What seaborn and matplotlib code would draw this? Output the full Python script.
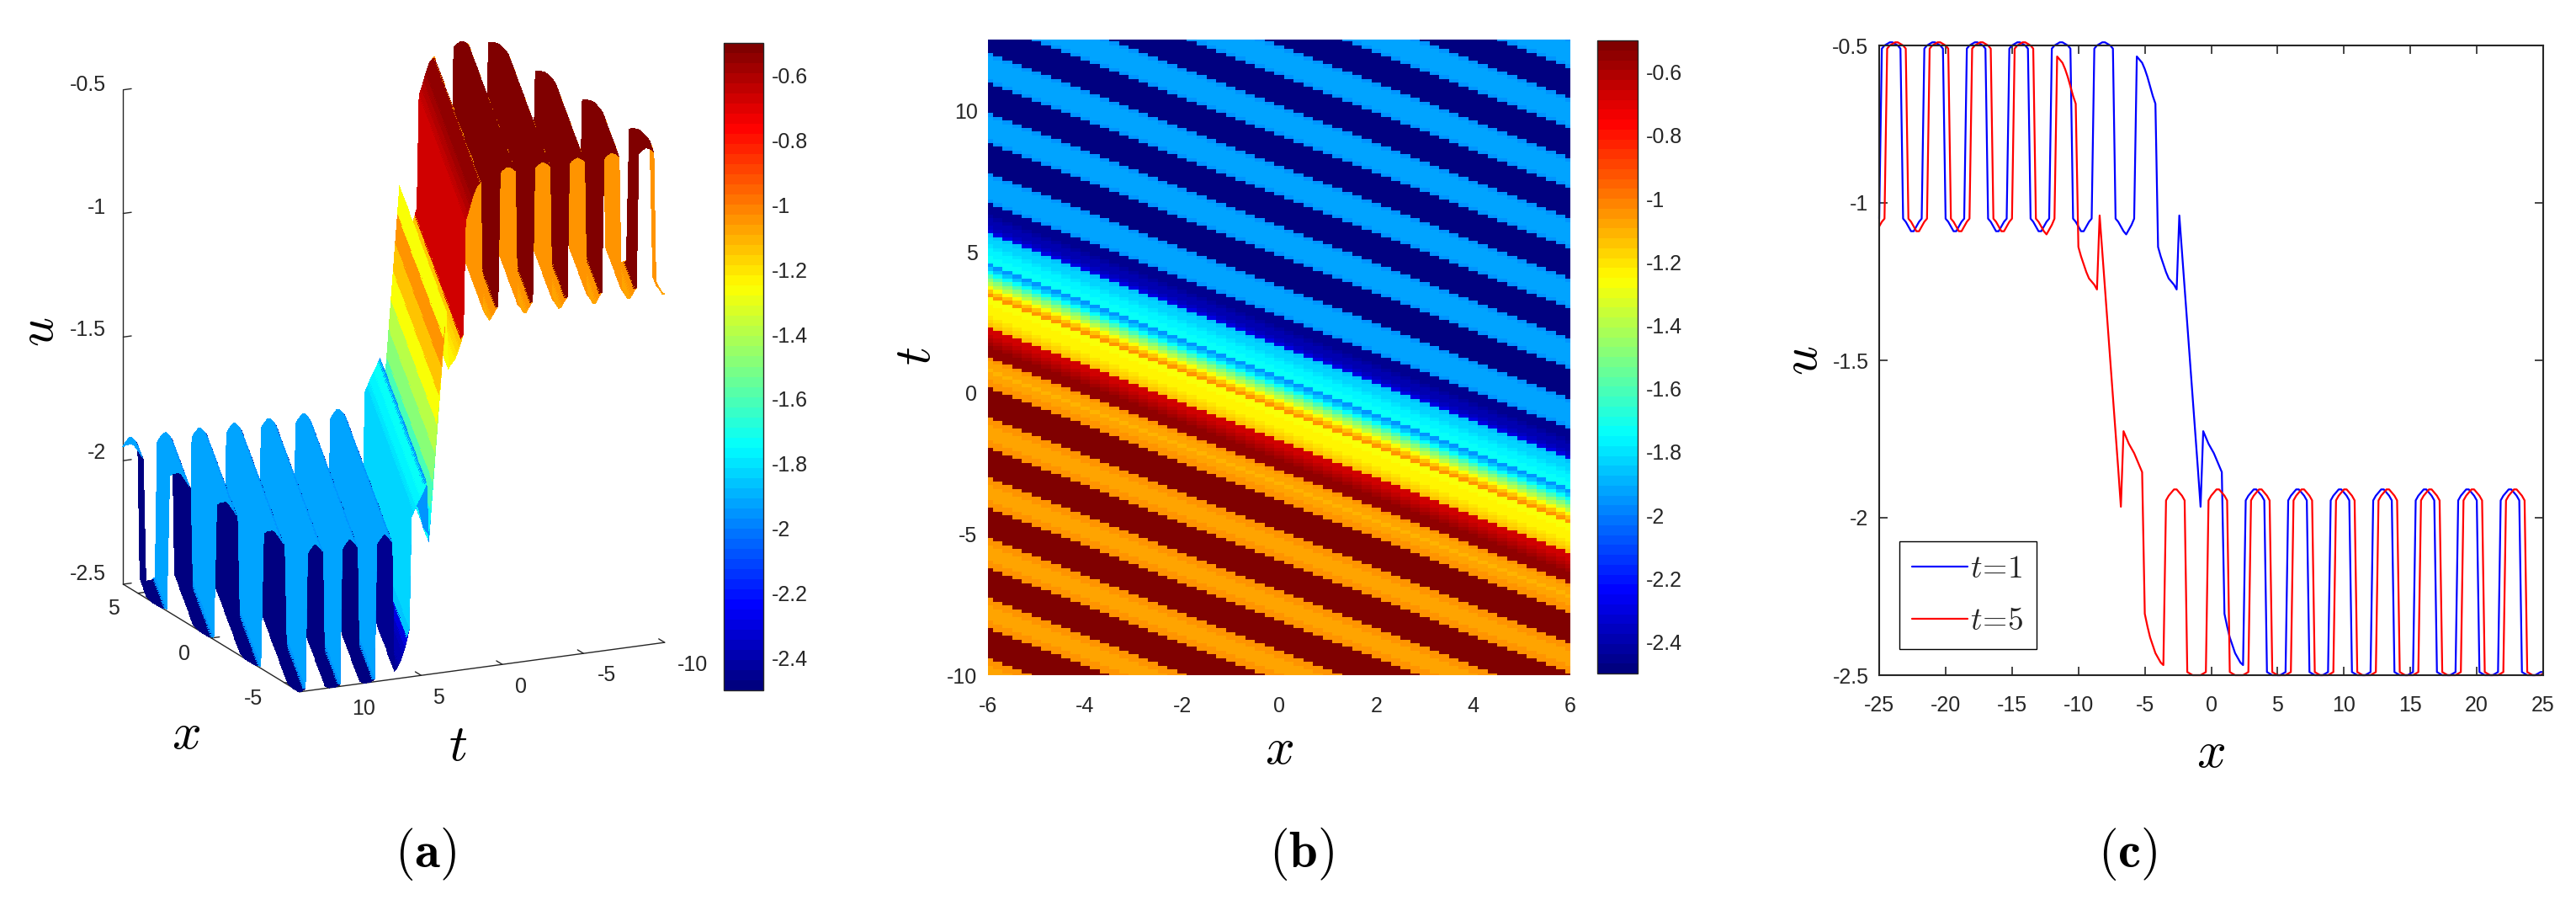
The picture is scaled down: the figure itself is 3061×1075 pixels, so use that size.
import matplotlib
matplotlib.use('Agg')
import matplotlib.pyplot as plt
from matplotlib.cm import ScalarMappable
from matplotlib.colors import LinearSegmentedColormap, Normalize
import numpy as np
import pandas as pd
import seaborn as sns

# u against x at t=1, one value every 0.2 from x=-25 to x=25
u_t1 = [
    -1.05,
    -0.51, -0.50, -0.495, -0.49, -0.49, -0.495, -0.50, -0.51,
    -1.05, -1.06, -1.075, -1.09, -1.09, -1.075, -1.06, -1.05,
    -0.51, -0.50, -0.495, -0.49, -0.49, -0.495, -0.50, -0.51,
    -1.05, -1.06, -1.075, -1.09, -1.09, -1.075, -1.06, -1.05,
    -0.51, -0.50, -0.495, -0.49, -0.49, -0.495, -0.50, -0.51,
    -1.05, -1.06, -1.075, -1.09, -1.09, -1.075, -1.06, -1.05,
    -0.51, -0.50, -0.495, -0.49, -0.49, -0.495, -0.50, -0.51,
    -1.05, -1.06, -1.075, -1.09, -1.09, -1.075, -1.06, -1.05,
    -0.51, -0.50, -0.495, -0.49, -0.49, -0.495, -0.50, -0.51,
    -1.05, -1.06, -1.075, -1.09, -1.09, -1.075, -1.06, -1.05,
    -0.51, -0.50, -0.495, -0.49, -0.49, -0.495, -0.50, -0.51,
    -1.05, -1.06, -1.075, -1.09, -1.10, -1.085, -1.07, -1.05,
    -0.535, -0.545, -0.555, -0.575, -0.60, -0.63, -0.66, -0.685,
    -1.14, -1.17, -1.195, -1.22, -1.24, -1.25, -1.26, -1.275,
    -1.04, -1.155, -1.27, -1.385, -1.50, -1.615, -1.73, -1.845, -1.965,
    -1.725, -1.745, -1.765, -1.78, -1.795, -1.815, -1.835, -1.855,
    -2.305, -2.345, -2.38, -2.405, -2.43, -2.445, -2.46, -2.468,
    -1.945, -1.93, -1.92, -1.91, -1.91, -1.92, -1.93, -1.945,
    -2.49, -2.495, -2.50, -2.50, -2.50, -2.50, -2.495, -2.49,
    -1.945, -1.93, -1.92, -1.91, -1.91, -1.92, -1.93, -1.945,
    -2.49, -2.495, -2.50, -2.50, -2.50, -2.50, -2.495, -2.49,
    -1.945, -1.93, -1.92, -1.91, -1.91, -1.92, -1.93, -1.945,
    -2.49, -2.495, -2.50, -2.50, -2.50, -2.50, -2.495, -2.49,
    -1.945, -1.93, -1.92, -1.91, -1.91, -1.92, -1.93, -1.945,
    -2.49, -2.495, -2.50, -2.50, -2.50, -2.50, -2.495, -2.49,
    -1.945, -1.93, -1.92, -1.91, -1.91, -1.92, -1.93, -1.945,
    -2.49, -2.495, -2.50, -2.50, -2.50, -2.50, -2.495, -2.49,
    -1.945, -1.93, -1.92, -1.91, -1.91, -1.92, -1.93, -1.945,
    -2.49, -2.495, -2.50, -2.50, -2.50, -2.50, -2.495, -2.49,
    -1.945, -1.93, -1.92, -1.91, -1.91, -1.92, -1.93, -1.945,
    -2.49, -2.495, -2.50, -2.50, -2.50, -2.50, -2.495, -2.49,
    -2.49,
]

# same thing at t=5
u_t5 = [
    -1.075, -1.06, -1.05,
    -0.51, -0.50, -0.495, -0.49, -0.49, -0.495, -0.50, -0.51,
    -1.05, -1.06, -1.075, -1.09, -1.09, -1.075, -1.06, -1.05,
    -0.51, -0.50, -0.495, -0.49, -0.49, -0.495, -0.50, -0.51,
    -1.05, -1.06, -1.075, -1.09, -1.09, -1.075, -1.06, -1.05,
    -0.51, -0.50, -0.495, -0.49, -0.49, -0.495, -0.50, -0.51,
    -1.05, -1.06, -1.075, -1.09, -1.09, -1.075, -1.06, -1.05,
    -0.51, -0.50, -0.495, -0.49, -0.49, -0.495, -0.50, -0.51,
    -1.05, -1.06, -1.075, -1.09, -1.10, -1.085, -1.07, -1.05,
    -0.535, -0.545, -0.555, -0.575, -0.60, -0.63, -0.66, -0.685,
    -1.14, -1.17, -1.195, -1.22, -1.24, -1.25, -1.26, -1.275,
    -1.04, -1.155, -1.27, -1.385, -1.50, -1.615, -1.73, -1.845, -1.965,
    -1.725, -1.745, -1.765, -1.78, -1.795, -1.815, -1.835, -1.855,
    -2.305, -2.345, -2.38, -2.405, -2.43, -2.445, -2.46, -2.468,
    -1.945, -1.93, -1.92, -1.91, -1.91, -1.92, -1.93, -1.945,
    -2.49, -2.495, -2.50, -2.50, -2.50, -2.50, -2.495, -2.49,
    -1.945, -1.93, -1.92, -1.91, -1.91, -1.92, -1.93, -1.945,
    -2.49, -2.495, -2.50, -2.50, -2.50, -2.50, -2.495, -2.49,
    -1.945, -1.93, -1.92, -1.91, -1.91, -1.92, -1.93, -1.945,
    -2.49, -2.495, -2.50, -2.50, -2.50, -2.50, -2.495, -2.49,
    -1.945, -1.93, -1.92, -1.91, -1.91, -1.92, -1.93, -1.945,
    -2.49, -2.495, -2.50, -2.50, -2.50, -2.50, -2.495, -2.49,
    -1.945, -1.93, -1.92, -1.91, -1.91, -1.92, -1.93, -1.945,
    -2.49, -2.495, -2.50, -2.50, -2.50, -2.50, -2.495, -2.49,
    -1.945, -1.93, -1.92, -1.91, -1.91, -1.92, -1.93, -1.945,
    -2.49, -2.495, -2.50, -2.50, -2.50, -2.50, -2.495, -2.49,
    -1.945, -1.93, -1.92, -1.91, -1.91, -1.92, -1.93, -1.945,
    -2.49, -2.495, -2.50, -2.50, -2.50, -2.50, -2.495, -2.49,
    -1.945, -1.93, -1.92, -1.91, -1.91, -1.92, -1.93, -1.945,
    -2.49, -2.495, -2.50, -2.50, -2.50, -2.50, -2.495, -2.49,
    -1.945, -1.93, -1.92, -1.91, -1.91, -1.92, -1.93, -1.945,
    -2.49, -2.495, -2.50, -2.50, -2.50, -2.50, -2.495,
]

x_c = np.linspace(-25, 25, 251)
x_grid = np.linspace(-6, 6, 61)
t_grid = np.linspace(-10, 12.533, 170)

cbar_ticks = [-0.6, -0.8, -1, -1.2, -1.4, -1.6, -1.8, -2, -2.2, -2.4]
cbar_labels = ['-0.6', '-0.8', '-1', '-1.2', '-1.4', '-1.6', '-1.8', '-2', '-2.2', '-2.4']
b_xticks = [-6, -4, -2, 0, 2, 4, 6]
b_yticks = [-10, -5, 0, 5, 10]
c_xticks = [-25, -20, -15, -10, -5, 0, 5, 10, 15, 20, 25]
c_yticks = [-0.5, -1, -1.5, -2, -2.5]
a_zticks = [-0.5, -1, -1.5, -2, -2.5]
a_xticks = [5, 0, -5]
a_tticks = [10, 5, 0, -5, -10]

# the wave only moves, so a row of the field is the t=1 curve moved along
field = np.array([[u_t1[j + k + 12] for j in range(len(x_grid))] for k in range(len(t_grid))])

W, H = 3061, 1075
INK = '#262626'

sns.set_style('white')
plt.rcParams['font.family'] = ['Liberation Sans', 'DejaVu Sans']
plt.rcParams['mathtext.fontset'] = 'cm'
plt.rcParams['axes.unicode_minus'] = False

fig = plt.figure(figsize=(W / 100, H / 100), dpi=100)
# matlab's jet, 64 levels
jet = LinearSegmentedColormap.from_list('jet64', [(0, (0, 0, 0.5)), (0.125, (0, 0, 1)), (0.375, (0, 1, 1)),
                                                  (0.625, (1, 1, 0)), (0.875, (1, 0, 0)), (1, (0.5, 0, 0))], N=64)
norm = Normalize(-2.5, -0.5)


def box(left, top, right, bottom):
    return [left / W, 1 - bottom / H, (right - left) / W, (bottom - top) / H]


def label(px, py, text, rot=0, size=44, ha='center', color='black'):
    fig.text(px / W, 1 - py / H, text, ha=ha, va='center', rotation=rot, fontsize=size, color=color)


def style_cbar(cbar):
    cbar.set_ticks(cbar_ticks)
    cbar.set_ticklabels(cbar_labels)
    cbar.ax.tick_params(direction='in', length=5, width=1, labelsize=18, colors=INK, pad=7, right=True, left=False)
    cbar.outline.set_edgecolor(INK)
    cbar.outline.set_linewidth(1)


# (a) surface
ax_a = fig.add_axes(box(47, 36, 867, 856), projection='3d', proj_type='ortho')
ax_a.patch.set_alpha(0)
ax_a.computed_zorder = False
ax_a.view_init(elev=16.7, azim=154.8)
ax_a.set_box_aspect((486, 474, 606), zoom=1.09)
X, T = np.meshgrid(x_grid, t_grid)
# each quad takes the colour of one corner, like matlab's flat shading
surf = ax_a.plot_surface(X, T, field, facecolors=jet(norm(field)), rstride=1, cstride=1,
                         linewidth=0, antialiased=False, shade=False, zorder=3)
ax_a.set_xlim(-6, 6)
ax_a.set_ylim(-10, 12.5)
ax_a.set_zlim(-2.5, -0.5)
ax_a.set_axis_off()

ax_a.plot([6, 6], [12.5, 12.5], [-2.5, -0.5], color=INK, lw=1, zorder=1)
ax_a.plot([-6, 6], [12.5, 12.5], [-2.5, -2.5], color=INK, lw=1, zorder=1)
ax_a.plot([-6, -6], [-10, 12.5], [-2.5, -2.5], color=INK, lw=1, zorder=1)
for z in a_zticks:
    ax_a.plot([6, 6], [12.5, 12.0], [z, z], color=INK, lw=1, zorder=1)
for x in a_xticks:
    ax_a.plot([x, x], [12.5, 12.0], [-2.5, -2.5], color=INK, lw=1, zorder=1)
for t in a_tticks:
    ax_a.plot([-6, -5.6], [t, t], [-2.5, -2.5], color=INK, lw=1, zorder=1)

for z, py in zip(a_zticks, [101, 247, 392, 538, 682]):
    label(126, py, str(z), size=18, ha='right', color=INK)
for x, px, py in zip(a_xticks, [135, 219, 301], [723, 777, 830]):
    label(px, py, str(x), size=18, color=INK)
for t, px, py in zip(a_tticks, [432, 521, 619, 721, 823], [842, 829, 816, 802, 790]):
    label(px, py, str(t), size=18, color=INK)

cax_a = fig.add_axes(box(860, 51, 907, 820))
style_cbar(fig.colorbar(ScalarMappable(norm=norm, cmap=jet), cax=cax_a))

# (b) heatmap
ax_b = fig.add_axes(box(1174, 47, 1866, 802))
cax_b = fig.add_axes(box(1898, 48, 1946, 800))
sns.heatmap(field, ax=ax_b, cbar_ax=cax_b, cmap=jet, vmin=-2.5, vmax=-0.5,
            xticklabels=False, yticklabels=False)
ax_b.set_xlim(0.5, len(x_grid) - 0.5)
ax_b.set_ylim(0.5, len(t_grid) - 0.5)
ax_b.set_xticks([(v + 6) / 0.2 + 0.5 for v in b_xticks])
ax_b.set_xticklabels([str(v) for v in b_xticks])
ax_b.set_yticks([(v + 10) / (t_grid[1] - t_grid[0]) + 0.5 for v in b_yticks])
ax_b.set_yticklabels([str(v) for v in b_yticks], rotation=0)
ax_b.tick_params(axis='x', length=0, pad=18, labelsize=18, colors=INK)
ax_b.tick_params(axis='y', length=0, pad=9, labelsize=18, colors=INK)
style_cbar(ax_b.collections[0].colorbar)

# (c) the two profiles
df = pd.DataFrame({
    'x': np.concatenate([x_c, x_c]),
    'u': u_t1 + u_t5,
    'time': [r'$t\!=\!1$'] * len(u_t1) + [r'$t\!=\!5$'] * len(u_t5),
})
ax_c = fig.add_axes(box(2233, 54, 3022, 802))
sns.lineplot(data=df, x='x', y='u', hue='time', palette=['#0000ff', '#ff0000'], estimator=None,
             sort=False, lw=1.6, clip_on=False, ax=ax_c)
ax_c.set_xlim(-25, 25)
ax_c.set_ylim(-2.5, -0.5)
ax_c.set_xticks(c_xticks)
ax_c.set_xticklabels([str(v) for v in c_xticks])
ax_c.set_yticks(c_yticks)
ax_c.set_yticklabels([str(v) for v in c_yticks])
ax_c.set_xlabel('')
ax_c.set_ylabel('')
ax_c.tick_params(direction='in', length=7, width=1.2, labelsize=18, colors=INK, top=True, right=True,
                 bottom=True, left=True)
ax_c.tick_params(axis='x', pad=17)
ax_c.tick_params(axis='y', pad=9)
for spine in ax_c.spines.values():
    spine.set_edgecolor(INK)
    spine.set_linewidth(1.5)
ax_c.legend(title=None, loc='lower left', bbox_to_anchor=((2257 - 2233) / 789, (802 - 771) / 748),
            fontsize=27, frameon=True, fancybox=False, edgecolor='black', framealpha=1,
            handlelength=1.75, handletextpad=0.1, borderpad=0.4, labelspacing=0.7, borderaxespad=0)

# axis names and panel letters
label(48, 394, r'$u$', rot=90)
label(221, 874, r'$x$')
label(544, 888, r'$t$')
label(1520, 891, r'$x$')
label(1090, 423, r'$t$', rot=90)
label(2627, 895, r'$x$')
label(2144, 428, r'$u$', rot=90)
label(506, 1014, r'$(\mathbf{a})$')
label(1547, 1014, r'$(\mathbf{b})$')
label(2528, 1014, r'$(\mathbf{c})$')

plt.savefig('out.png', dpi=100)
